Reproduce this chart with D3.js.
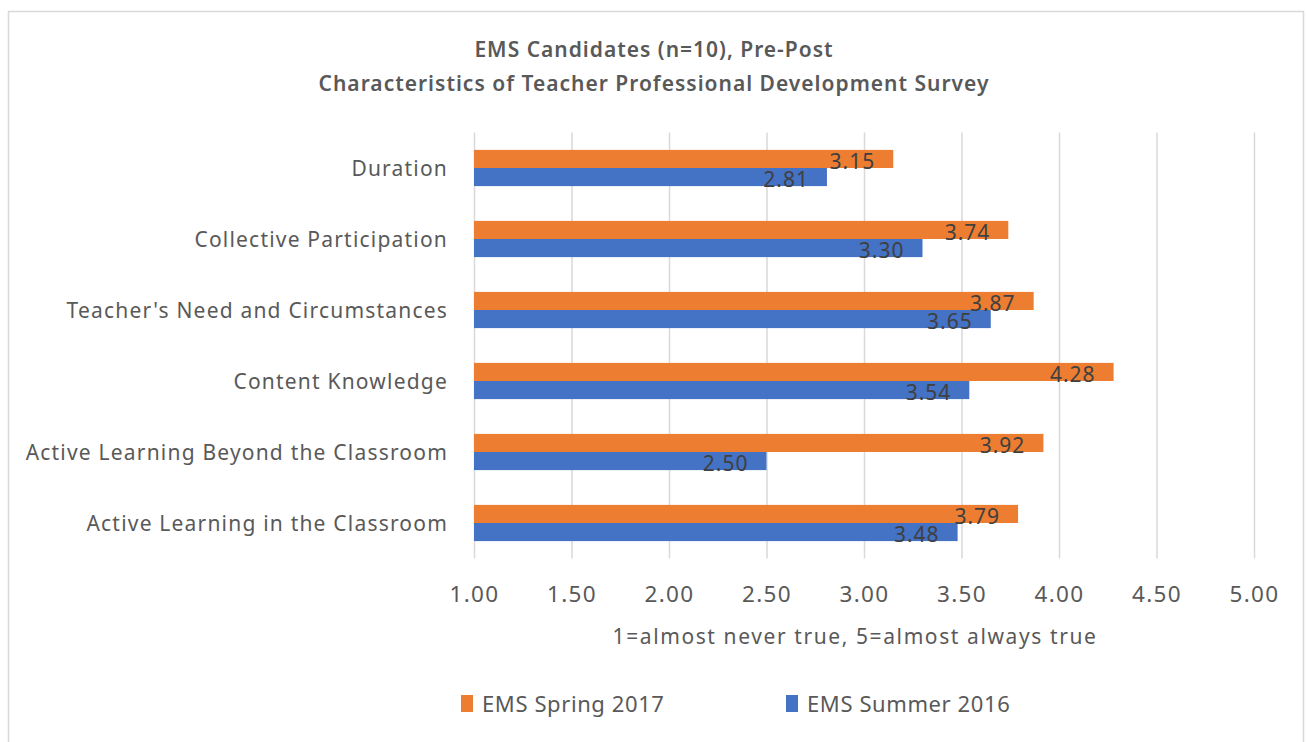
<!DOCTYPE html>
<html>
<head>
<meta charset="utf-8">
<script src="https://cdn.jsdelivr.net/npm/d3@7"></script>
<style>
  html, body { margin: 0; padding: 0; background: #ffffff; }
  svg { display: block; font-family: "Noto Sans", "Open Sans", sans-serif; }
</style>
</head>
<body>
<svg id="chart" width="1306" height="742"></svg>
<script>
const categories = [
  "Duration",
  "Collective Participation",
  "Teacher's Need and Circumstances",
  "Content Knowledge",
  "Active Learning Beyond the Classroom",
  "Active Learning in the Classroom"
];
const spring2017 = [3.15, 3.74, 3.87, 4.28, 3.92, 3.79];
const summer2016 = [2.81, 3.30, 3.65, 3.54, 2.50, 3.48];
const seriesNames = ["EMS Spring 2017", "EMS Summer 2016"];
const seriesColors = ["#ED7D31", "#4472C4"];
const xTicks = [1.0, 1.5, 2.0, 2.5, 3.0, 3.5, 4.0, 4.5, 5.0];
const titleLines = ["EMS Candidates (n=10), Pre-Post", "Characteristics of Teacher Professional Development Survey"];
const axisTitle = "1=almost never true, 5=almost always true";

const svg = d3.select("#chart");
const plot = { left: 474, right: 1254, top: 132.5, bottom: 558.5 };

// outer border
svg.append("rect")
  .attr("x", 8.5).attr("y", 11.5)
  .attr("width", 1295).attr("height", 740)
  .attr("fill", "#ffffff")
  .attr("stroke", "#D9D9D9").attr("stroke-width", 1.5);

// title
svg.append("g").selectAll("text").data(titleLines).join("text")
  .attr("x", 654).attr("y", (d, i) => 57 + i * 34)
  .attr("text-anchor", "middle")
  .attr("fill", "#595959")
  .attr("font-size", 21)
  .attr("font-weight", 600)
  .attr("letter-spacing", 1.0)
  .text(d => d);

const x = d3.scaleLinear().domain([1, 5]).range([plot.left, plot.right]);
const y = d3.scaleBand().domain(categories).range([plot.top, plot.bottom])
  .paddingInner(0.49).paddingOuter(0.245);
const ySub = d3.scaleBand().domain(seriesNames).range([0, y.bandwidth()]);

// gridlines + tick labels
const xAxis = d3.axisBottom(x).tickValues(xTicks).tickFormat(d3.format(".2f"))
  .tickSize(-(plot.bottom - plot.top)).tickPadding(28);
const gx = svg.append("g")
  .attr("transform", `translate(0,${plot.bottom})`)
  .call(xAxis);
gx.select(".domain").remove();
gx.selectAll(".tick line").attr("stroke", "#D9D9D9").attr("stroke-width", 1.5);
gx.selectAll(".tick text")
  .attr("fill", "#595959").attr("font-size", 22.5)
  .attr("letter-spacing", 1.3)
  .attr("font-family", "Noto Sans, sans-serif");

// category labels
svg.append("g").selectAll("text").data(categories).join("text")
  .attr("x", plot.left - 26)
  .attr("y", d => y(d) + y.bandwidth() / 2)
  .attr("dy", "0.36em")
  .attr("text-anchor", "end")
  .attr("fill", "#595959")
  .attr("font-size", 21)
  .attr("letter-spacing", 1.2)
  .text(d => d);

// bars
const rows = categories.map((c, i) => ({ cat: c, vals: [spring2017[i], summer2016[i]] }));
const groups = svg.append("g").selectAll("g").data(rows).join("g")
  .attr("transform", d => `translate(0,${y(d.cat)})`);

groups.selectAll("rect").data(d => d.vals.map((v, j) => ({ v, s: seriesNames[j], c: seriesColors[j] })))
  .join("rect")
  .attr("x", x(1))
  .attr("y", d => ySub(d.s))
  .attr("width", d => x(d.v) - x(1))
  .attr("height", ySub.bandwidth())
  .attr("fill", d => d.c);

groups.selectAll("text").data(d => d.vals.map((v, j) => ({ v, s: seriesNames[j] })))
  .join("text")
  .attr("x", d => x(d.v) - 18)
  .attr("y", d => ySub(d.s) + ySub.bandwidth() / 2 + 2)
  .attr("dy", "0.36em")
  .attr("text-anchor", "end")
  .attr("fill", "#404040")
  .attr("font-size", 21)
  .attr("letter-spacing", 1)
  .text(d => d3.format(".2f")(d.v));

// axis title
svg.append("text")
  .attr("x", 855).attr("y", 644)
  .attr("text-anchor", "middle")
  .attr("fill", "#595959")
  .attr("font-size", 21)
  .attr("letter-spacing", 1.6)
  .text(axisTitle);

// legend
const legendX = [461, 786];
const lg = svg.append("g").selectAll("g").data(seriesNames).join("g")
  .attr("transform", (d, i) => `translate(${legendX[i]},695)`);
lg.append("rect").attr("x", 0).attr("y", 0).attr("width", 12).attr("height", 17)
  .attr("fill", (d, i) => seriesColors[i]);
lg.append("text").attr("x", 21).attr("y", 17)
  .attr("fill", "#595959").attr("font-size", 22).attr("letter-spacing", 0.6)
  .text(d => d);
</script>
</body>
</html>
